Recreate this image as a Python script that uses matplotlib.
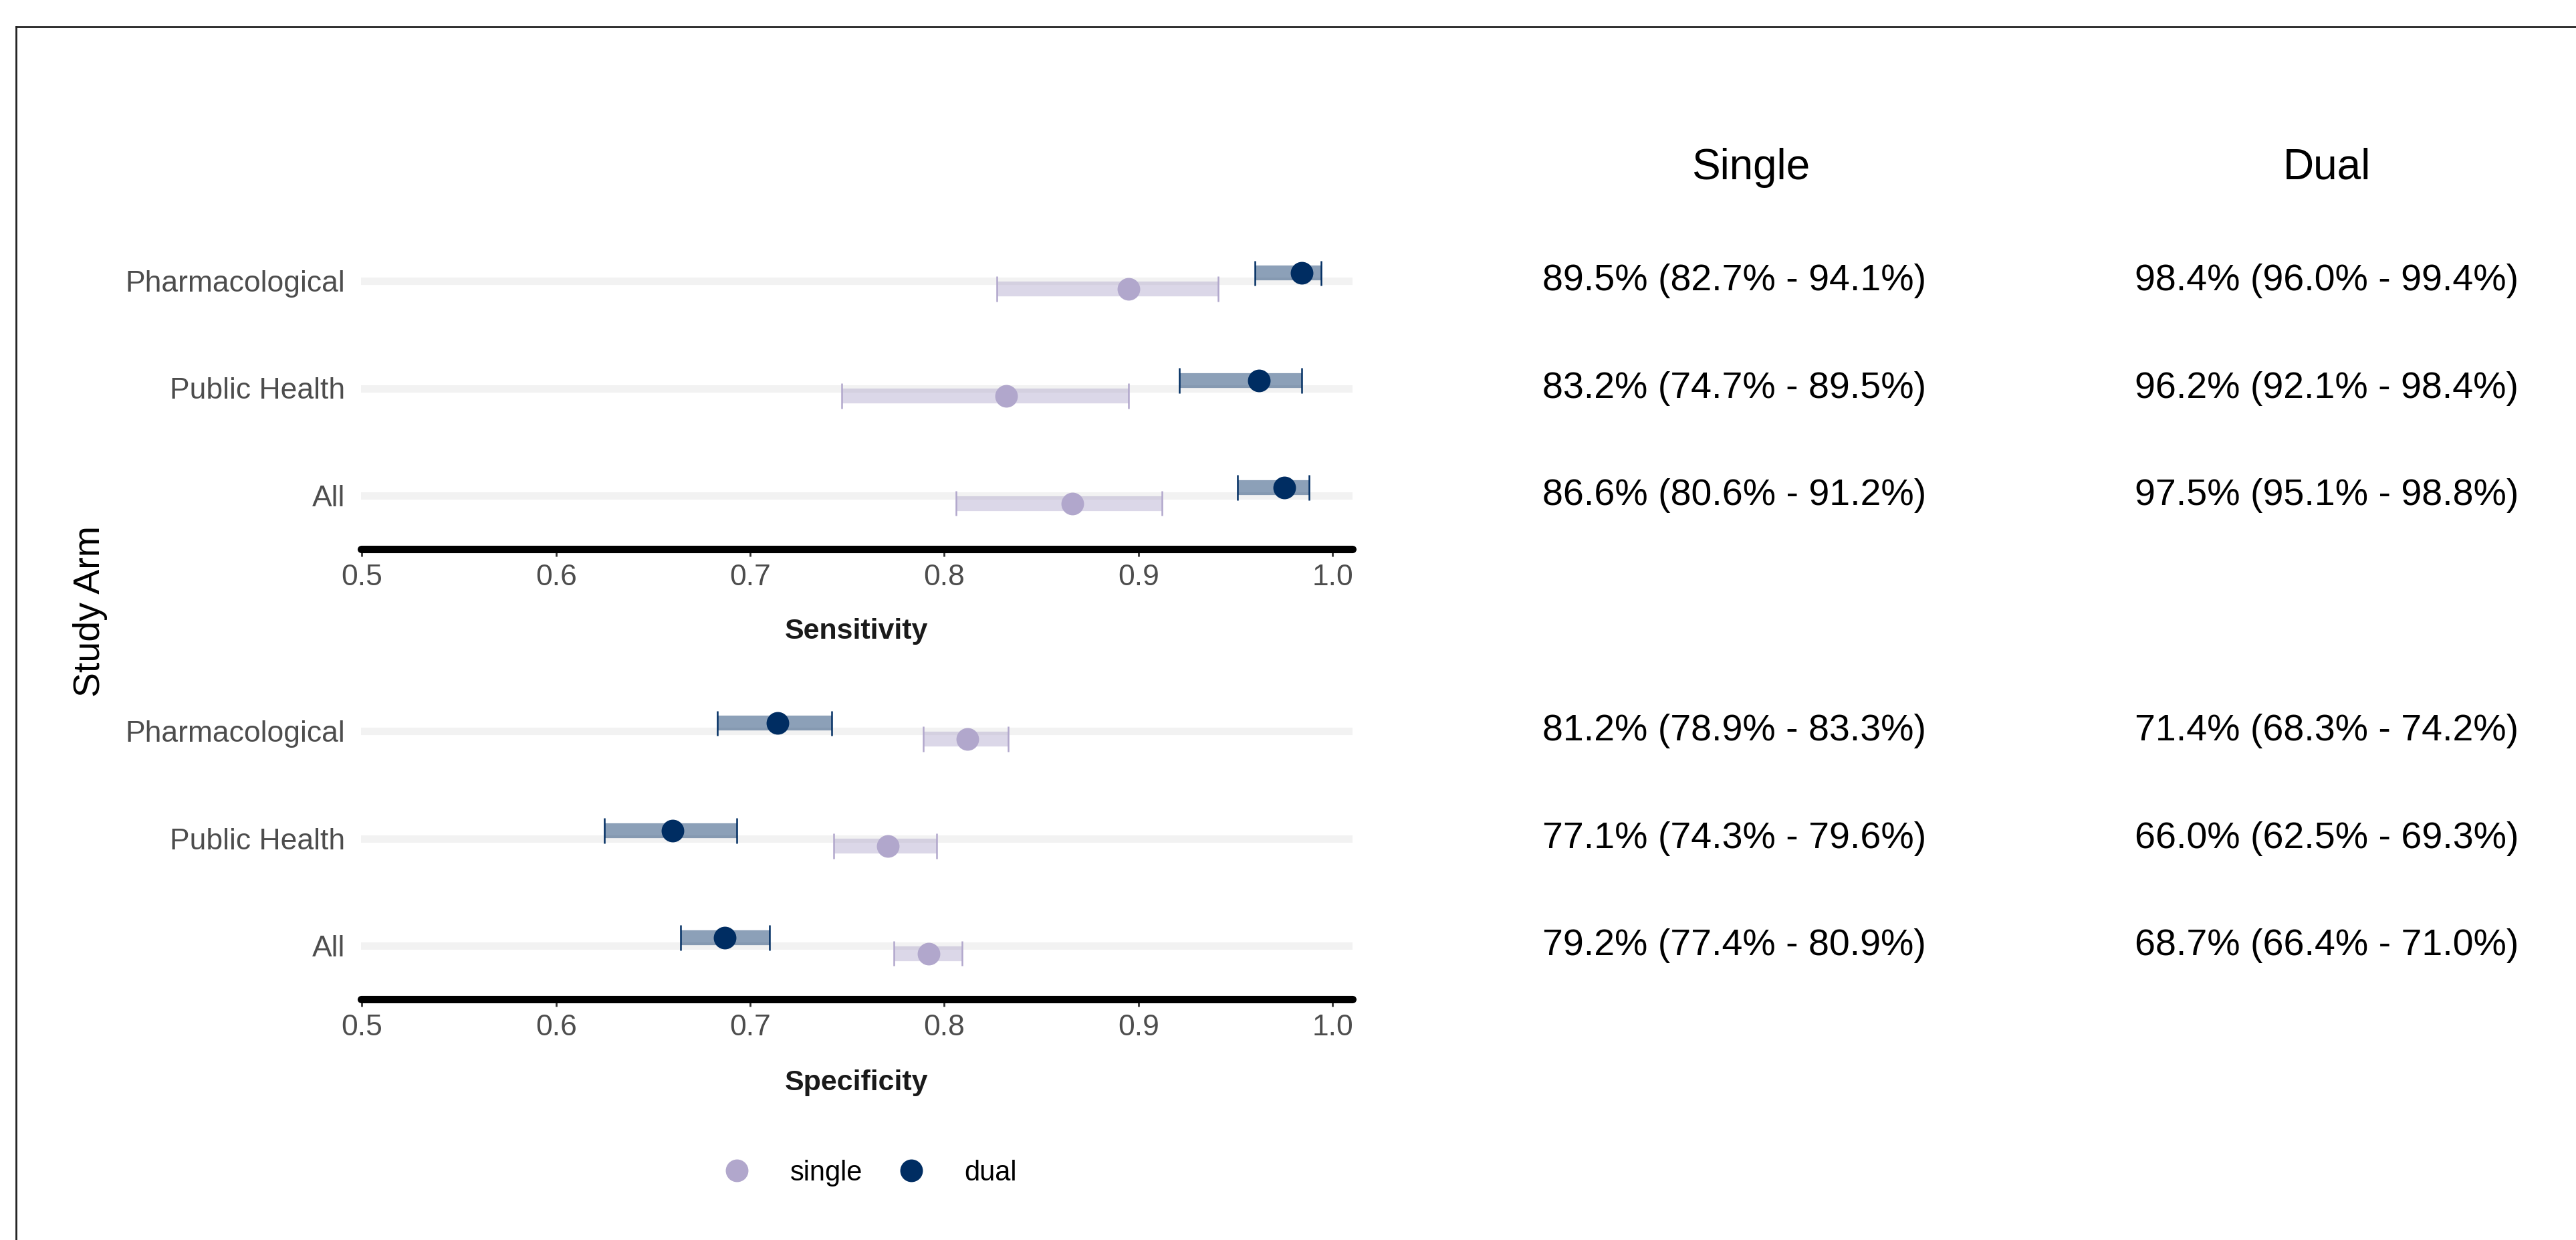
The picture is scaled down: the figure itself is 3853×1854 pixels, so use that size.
import matplotlib
matplotlib.use("Agg")
import matplotlib.pyplot as plt
from matplotlib.lines import Line2D

plt.rcParams['font.family'] = ['Liberation Sans', 'DejaVu Sans']

# ---------------- data ----------------
arms = ["All", "Public Health", "Pharmacological"]          # bottom -> top

sens_single = [0.866, 0.832, 0.895]
sens_single_lo = [0.806, 0.747, 0.827]
sens_single_hi = [0.912, 0.895, 0.941]
sens_dual = [0.975, 0.962, 0.984]
sens_dual_lo = [0.951, 0.921, 0.960]
sens_dual_hi = [0.988, 0.984, 0.994]

spec_single = [0.792, 0.771, 0.812]
spec_single_lo = [0.774, 0.743, 0.789]
spec_single_hi = [0.809, 0.796, 0.833]
spec_dual = [0.687, 0.660, 0.714]
spec_dual_lo = [0.664, 0.625, 0.683]
spec_dual_hi = [0.710, 0.693, 0.742]

x_ticks = [0.5, 0.6, 0.7, 0.8, 0.9, 1.0]
x_tick_labels = ["0.5", "0.6", "0.7", "0.8", "0.9", "1.0"]
panel_titles = ["Sensitivity", "Specificity"]
col_headers = ["Single", "Dual"]
legend_labels = ["single", "dual"]

C_SINGLE = "#B1A7CC"
C_DUAL = "#002D62"

# ---------------- figure ----------------
W, H = 3853, 1854
DPI = 200
fig = plt.figure(figsize=(W / DPI, H / DPI), dpi=DPI, facecolor="white")


def fx(px):
    return px / W


def fy(py):
    return 1 - py / H


def make_panel(top, bottom, single, s_lo, s_hi, dual, d_lo, d_hi, title, title_y):
    ax = fig.add_axes([fx(540), fy(bottom), fx(2023) - fx(540), fy(top) - fy(bottom)])
    ax.set_xlim(0.4995, 1.0103)
    ax.set_ylim(-0.5, 2.5)
    ypos = list(range(len(arms)))
    ax.set_yticks(ypos)
    ax.set_yticklabels(arms)
    ax.yaxis.grid(True, color="#F2F2F2", linewidth=4, zorder=0)
    ax.set_axisbelow(True)
    for s in ["top", "right", "left"]:
        ax.spines[s].set_visible(False)
    ax.spines["bottom"].set_linewidth(4)
    ax.spines["bottom"].set_capstyle("round")
    ax.spines["bottom"].set_color("black")
    ax.set_xticks(x_ticks)
    ax.set_xticklabels(x_tick_labels)
    ax.tick_params(axis="x", length=4, width=1.0, color="#333333", pad=4,
                   labelsize=16, labelcolor="#4D4D4D")
    ax.tick_params(axis="y", length=0, pad=8.6, labelsize=16, labelcolor="#4D4D4D")
    ax.set_facecolor("none")

    dodge = 0.073
    cap = 0.118
    for vals, lo, hi, col, off in [(single, s_lo, s_hi, C_SINGLE, -dodge),
                                   (dual, d_lo, d_hi, C_DUAL, dodge)]:
        yy = [y + off for y in ypos]
        ax.hlines(yy, lo, hi, colors=col, linewidth=8, alpha=0.45,
                  capstyle="butt", zorder=2)
        ax.vlines(lo, [y - cap for y in yy], [y + cap for y in yy],
                  colors=col, linewidth=0.9, zorder=3)
        ax.vlines(hi, [y - cap for y in yy], [y + cap for y in yy],
                  colors=col, linewidth=0.9, zorder=3)
        ax.plot(vals, yy, "o", color=col, markersize=12.2, markeredgewidth=0,
                linestyle="none", zorder=4)
    fig.text(fx(1281), fy(title_y), title, ha="center", va="center",
             fontsize=15.5, fontweight="bold", color="#1A1A1A")
    return ax, ypos


ax1, yp = make_panel(340, 821, sens_single, sens_single_lo, sens_single_hi,
                     sens_dual, sens_dual_lo, sens_dual_hi, panel_titles[0], 944)
ax2, _ = make_panel(1013, 1494, spec_single, spec_single_lo, spec_single_hi,
                    spec_dual, spec_dual_lo, spec_dual_hi, panel_titles[1], 1619)

fig.text(fx(135), fy(914), "Study Arm", rotation=90, ha="center", va="center",
         fontsize=20, color="black")

# ---------------- table ----------------
def fmt(v, lo, hi):
    return f"{v * 100:.1f}% ({lo * 100:.1f}% - {hi * 100:.1f}%)"


fig.text(fx(2619), fy(251), col_headers[0], ha="center", va="center", fontsize=23)
fig.text(fx(3480), fy(251), col_headers[1], ha="center", va="center", fontsize=23)

for ax, data in [(ax1, (sens_single, sens_single_lo, sens_single_hi,
                        sens_dual, sens_dual_lo, sens_dual_hi)),
                 (ax2, (spec_single, spec_single_lo, spec_single_hi,
                        spec_dual, spec_dual_lo, spec_dual_hi))]:
    s, sl, sh, d, dl, dh = data
    for i in range(len(arms)):
        # y from the axes' own transform
        _, ydisp = ax.transData.transform((0.75, i))
        yfig = fig.transFigure.inverted().transform((0, ydisp))[1]
        fig.text(fx(2594), yfig, fmt(s[i], sl[i], sh[i]), ha="center", va="center",
                 fontsize=20, color="black")
        fig.text(fx(3480), yfig, fmt(d[i], dl[i], dh[i]), ha="center", va="center",
                 fontsize=20, color="black")

# ---------------- legend ----------------
handles = [Line2D([], [], marker="o", linestyle="none", color=C_SINGLE, markersize=12.2,
                  markeredgewidth=0),
           Line2D([], [], marker="o", linestyle="none", color=C_DUAL, markersize=12.2,
                  markeredgewidth=0)]
fig.legend(handles, legend_labels, loc="center", bbox_to_anchor=(fx(1301), fy(1754)),
           ncol=2, frameon=False, fontsize=15, handlelength=1.0, handletextpad=1.4,
           columnspacing=1.25)

# ---------------- border ----------------
fig.add_artist(Line2D([fx(24), fx(24)], [fy(40), 0], transform=fig.transFigure,
                      color="#222222", linewidth=1.0))
fig.add_artist(Line2D([fx(24), 1], [fy(40), fy(40)], transform=fig.transFigure,
                      color="#222222", linewidth=1.0))

fig.savefig("out.png", dpi=DPI, facecolor="white")
